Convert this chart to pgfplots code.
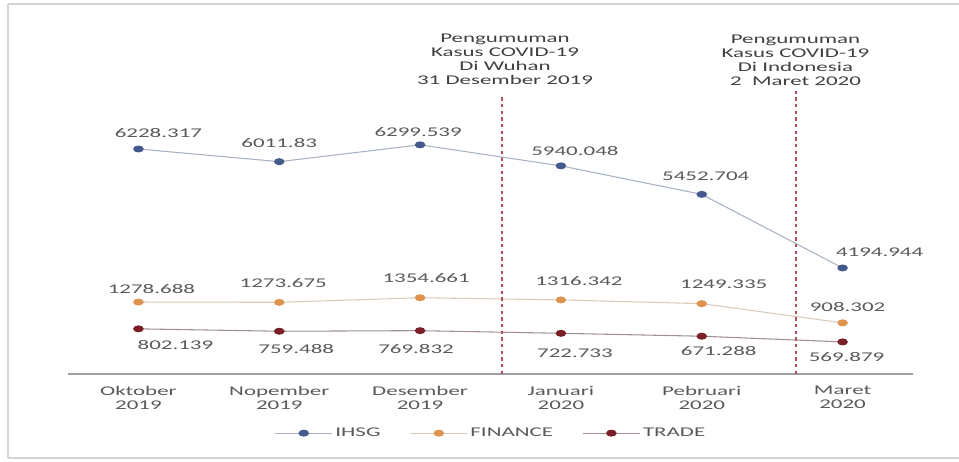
\documentclass[border=0pt]{standalone}
\usepackage{pgfplots}
\pgfplotsset{compat=1.18}
\usepackage{pgfplotstable}
\usepackage{fontspec}
\setmainfont[FakeStretch=1.72]{Carlito}

\definecolor{ihsgmk}{HTML}{44598C}
\definecolor{ihsgln}{HTML}{A7B2C2}
\definecolor{finmk}{HTML}{DE934E}
\definecolor{finln}{HTML}{D9CBBB}
\definecolor{trdmk}{HTML}{7A1F26}
\definecolor{trdln}{HTML}{A09090}
\definecolor{lbl}{HTML}{595959}
\definecolor{ann}{HTML}{404040}
\definecolor{vline}{HTML}{B0505C}
\definecolor{frame}{HTML}{D4D4D4}
\definecolor{axln}{HTML}{A0A0A0}

\pgfplotstableread{
x y label dx dy
0 6228.317 6228.317 20 -16
1 6011.83 6011.83 0 -19
2 6299.539 6299.539 -2 -13
3 5940.048 5940.048 14 -15
4 5452.704 5452.704 4 -18
5 4194.944 4194.944 37 -16
}\ihsg

\pgfplotstableread{
x y label dx dy
0 1278.688 1278.688 13 -13
1 1273.675 1273.675 4 -19
2 1354.661 1354.661 6 -20
3 1316.342 1316.342 18 -19
4 1249.335 1249.335 22 -19
5 908.302 908.302 5 -16
}\finance

\pgfplotstableread{
x y label dx dy
0 802.139 802.139 37 16
1 759.488 759.488 17 18
2 769.832 769.832 -4 18
3 722.733 722.733 14 20
4 671.288 671.288 17 15
5 569.879 569.879 4 15
}\trade

\pgfplotsset{
  lblnodes/.style={
    nodes near coords={\pgfplotspointmeta},
    point meta=explicit symbolic,
    visualization depends on={\thisrow{dx} \as \dx},
    visualization depends on={\thisrow{dy} \as \dy},
    every node near coord/.append style={anchor=center, inner sep=0pt,
      font=\fontsize{10}{12}\selectfont, text=lbl,
      xshift={0.75pt*(\dx)}, yshift={-0.75pt*(\dy)}},
  },
  mylegimg/.style={legend image code/.code={
    \draw[mark repeat=2,mark phase=2,##1] plot coordinates {(0cm,0cm) (0.75cm,0cm) (1.5cm,0cm)};}},
}

\begin{document}
\begin{tikzpicture}
\useasboundingbox (0,0) rectangle (719.25pt,345.75pt);
\draw[frame, line width=1.2pt] (6pt,2.25pt) -- (6pt,342.75pt);
\draw[frame, line width=1.2pt] (6pt,342.75pt) -- (719.25pt,342.75pt);
\draw[frame, line width=1.2pt] (6pt,2.25pt) -- (719.25pt,2.25pt);

\begin{axis}[
  at={(51pt,65.25pt)}, anchor=south west,
  scale only axis, width=633.75pt, height=262.5pt,
  xmin=-0.5, xmax=5.5, ymin=0, ymax=6217,
  clip=false,
  separate axis lines,
  axis x line*=bottom, axis y line=none,
  x axis line style={draw=axln, line width=1.5pt, -},
  xtick={0,1,2,3,4,5},
  xticklabels={{Oktober\\2019},{Nopember\\2019},{Desember\\2019},{Januari\\2020},{Pebruari\\2020},{Maret\\2020}},
  xtick style={draw=none},
  xticklabel style={align=center, font=\fontsize{10}{10.5}\selectfont, text=lbl, inner sep=0pt, yshift=-9pt},
  ytick=\empty,
  mylegimg,
  legend columns=3,
  legend style={draw=none, fill=none, at={(0.501,-0.169)}, anchor=center,
    font=\fontsize{10}{12}\selectfont, text=lbl,
    /tikz/every even column/.append style={column sep=20pt}},
]
\addlegendimage{ihsgln, line width=0.8pt, mark=*, mark size=2.2pt, mark options={xscale=1.6, draw=ihsgmk, fill=ihsgmk}}
\addlegendentry{IHSG}
\addplot[finln, line width=0.8pt, mark=*, mark size=2.2pt, mark options={xscale=1.6, draw=finmk, fill=finmk}, lblnodes]
  table[x=x, y=y, meta=label] {\finance};
\addlegendentry{FINANCE}
\addplot[trdln, line width=0.8pt, mark=*, mark size=2.2pt, mark options={xscale=1.6, draw=trdmk, fill=trdmk}, lblnodes]
  table[x=x, y=y, meta=label] {\trade};
\addlegendentry{TRADE}
\draw[vline, line width=1.1pt, dash pattern=on 2.5pt off 2.5pt] (axis cs:2.58,0) -- (axis cs:2.58,4956);
\draw[vline, line width=1.1pt, dash pattern=on 2.5pt off 2.5pt] (axis cs:4.67,0) -- (axis cs:4.67,5027);
\end{axis}

\begin{axis}[
  at={(51pt,65.25pt)}, anchor=south west,
  scale only axis, width=633.75pt, height=262.5pt,
  xmin=-0.5, xmax=5.5, ymin=2382, ymax=8365,
  clip=false, hide axis,
]
\addplot[ihsgln, line width=0.8pt, mark=*, mark size=2.2pt, mark options={xscale=1.6, draw=ihsgmk, fill=ihsgmk}, lblnodes]
  table[x=x, y=y, meta=label] {\ihsg};
\end{axis}

\node[align=center, font=\fontsize{10}{10.5}\selectfont, text=ann] at (378.75pt,301.1pt)
  {Pengumuman\\Kasus COVID-19\\Di Wuhan\\31 Desember 2019};
\node[align=center, font=\fontsize{10}{10.5}\selectfont, text=ann] at (596.6pt,300.2pt)
  {Pengumuman\\Kasus COVID-19\\Di Indonesia\\2\ \ Maret 2020};
\end{tikzpicture}
\end{document}
